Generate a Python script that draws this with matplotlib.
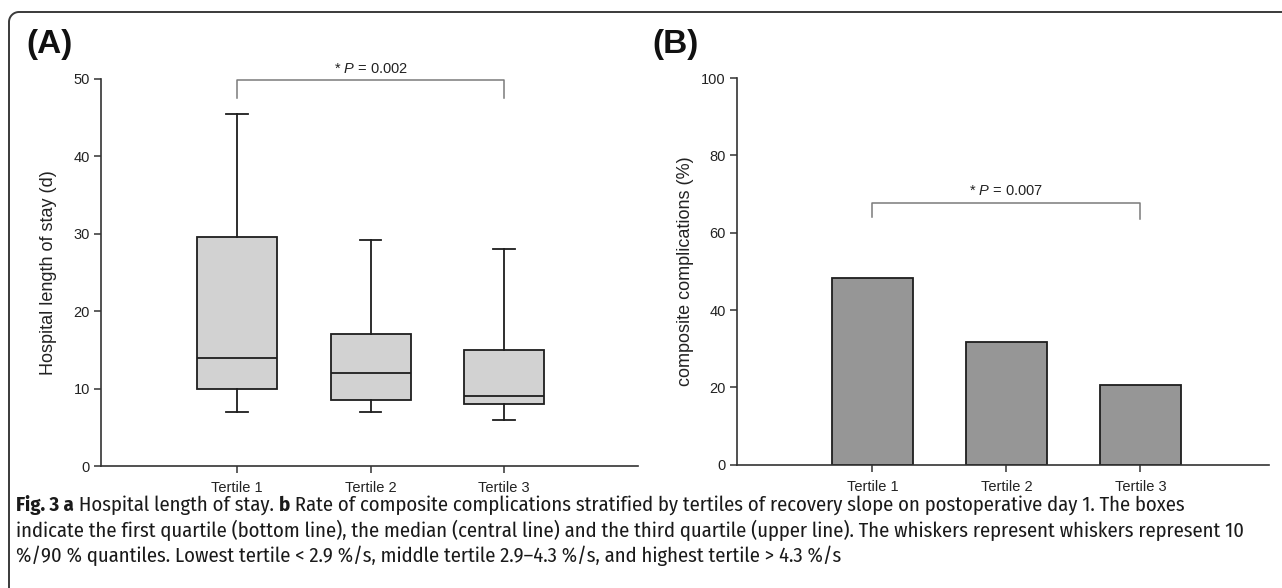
import numpy as np
import matplotlib
matplotlib.use("Agg")
import matplotlib.pyplot as plt
from matplotlib.path import Path
from matplotlib.patches import PathPatch

plt.rcParams['font.family'] = ['Liberation Sans', 'DejaVu Sans']
plt.rcParams['mathtext.fontset'] = 'custom'
plt.rcParams['mathtext.rm'] = 'Liberation Sans'
plt.rcParams['mathtext.it'] = 'Liberation Sans:italic'

# ---------------- data ----------------
categories = ["Tertile 1", "Tertile 2", "Tertile 3"]
# Panel A: hospital length of stay (days)
los_whislo = [7.0, 7.0, 6.0]
los_q1 = [10.0, 8.5, 8.0]
los_median = [14.0, 12.0, 9.0]
los_q3 = [29.6, 17.0, 15.0]
los_whishi = [45.5, 29.2, 28.0]
p_text_a = "0.002"
# Panel B: composite complications (%)
comp_rate = [48.4, 31.7, 20.7]
p_text_b = "0.007"

# caption: list of (text, bold) pieces per line
caption_lines = [
    [("Fig. 3 a", True), (" Hospital length of stay. ", False), ("b", True),
     (" Rate of composite complications stratified by tertiles of recovery slope on postoperative day 1. The boxes", False)],
    [("indicate the first quartile (bottom line), the median (central line) and the third quartile (upper line). The whiskers represent whiskers represent 10", False)],
    [("%/90 % quantiles. Lowest tertile < 2.9 %/s, middle tertile 2.9\u20134.3 %/s, and highest tertile > 4.3 %/s", False)],
]
cap_family = ["Fira Sans Condensed", "PT Sans Narrow", "Open Sans Condensed",
              "Roboto Condensed", "Archivo Narrow", "Open Sans"]

# ---------------- figure ----------------
W, H = 1282, 588
fig = plt.figure(figsize=(W / 100, H / 100), dpi=100)
txt_col = "#222222"
ax_col = "#333333"

def px_rect(left, top, right, bottom):
    return [left / W, 1 - bottom / H, (right - left) / W, (bottom - top) / H]

axA = fig.add_axes(px_rect(101, 79, 637.5, 466))
axB = fig.add_axes(px_rect(737, 78, 1269, 464.7))

pos = np.arange(1, len(categories) + 1)

# Panel A boxplot
stats = []
for i in range(len(categories)):
    stats.append(dict(med=los_median[i], q1=los_q1[i], q3=los_q3[i],
                      whislo=los_whislo[i], whishi=los_whishi[i], fliers=[]))
lw = 1.3
axA.bxp(stats, positions=pos, widths=0.6, patch_artist=True, showfliers=False,
        manage_ticks=False,
        boxprops=dict(facecolor="#d2d2d2", edgecolor="#1e1e1e", linewidth=lw),
        medianprops=dict(color="#1e1e1e", linewidth=lw),
        whiskerprops=dict(color="#1e1e1e", linewidth=lw),
        capprops=dict(color="#1e1e1e", linewidth=lw),
        capwidths=0.16)

# Panel B bars
axB.bar(pos, comp_rate, width=0.6, color="#969696", edgecolor="#1e1e1e", linewidth=1.3)

for ax in (axA, axB):
    for s in ("top", "right"):
        ax.spines[s].set_visible(False)
    for s in ("left", "bottom"):
        ax.spines[s].set_color(ax_col)
        ax.spines[s].set_linewidth(1.2)
    ax.tick_params(axis="both", direction="out", length=5, width=1.1,
                   color=ax_col, labelcolor=txt_col, labelsize=10.5)
    ax.tick_params(axis="y", pad=3)
    ax.tick_params(axis="x", pad=6)
    ax.set_xticks(pos)
    ax.set_xticklabels(categories)

axA.set_xlim(-0.02, 4.0)
axA.set_ylim(0, 50)
axA.set_yticks([0, 10, 20, 30, 40, 50])
axA.set_ylabel("Hospital length of stay (d)", fontsize=13, color=txt_col, labelpad=12)

# bracket A
br_col = "#7a7a7a"
axA.plot([pos[0], pos[0], pos[2], pos[2]], [47.6, 49.9, 49.9, 47.5],
         color=br_col, lw=1.1, clip_on=False)
axA.text((pos[0] + pos[2]) / 2, 51.3, r"* $\mathit{P}$ = " + p_text_a,
         ha="center", va="center", fontsize=10.5, color=txt_col, clip_on=False)

axB.set_xlim(-0.01, 3.96)
axB.set_ylim(0, 100)
axB.set_yticks([0, 20, 40, 60, 80, 100])
axB.set_ylabel("composite complications (%)", fontsize=13, color=txt_col, labelpad=5)
axB.plot([pos[0], pos[0], pos[2], pos[2]], [64.0, 67.6, 67.6, 63.6],
         color=br_col, lw=1.1, clip_on=False)
axB.text((pos[0] + pos[2]) / 2, 70.9, r"* $\mathit{P}$ = " + p_text_b,
         ha="center", va="center", fontsize=10.5, color=txt_col)

# panel letters
fig.text(26 / W, 1 - 45 / H, "(A)", fontsize=24, fontweight="bold", va="center", ha="left", color="#111111")
fig.text(652 / W, 1 - 45 / H, "(B)", fontsize=24, fontweight="bold", va="center", ha="left", color="#111111")

# caption
cap_base = [511, 536.5, 562]
cap_size = 14.8
for pieces, yb in zip(caption_lines, cap_base):
    prev_last = None
    for s, bold in pieces:
        kw = dict(fontsize=cap_size, family=cap_family, color="#1a1a1a",
                  fontweight="bold" if bold else "normal")
        if prev_last is None:
            t = fig.text(16 / W, 1 - yb / H, s, va="baseline", ha="left", **kw)
        else:
            t = fig.text(0, 0, s, va="baseline", ha="left", **kw)
            fig.canvas.draw()
            bb = prev_last.get_window_extent()
            t.set_position((bb.x1 / W, 1 - yb / H))
        prev_last = t

# frame with rounded top-left corner
left, top, r = 9.0, 12.0, 10.0
ang = np.linspace(np.pi, np.pi / 2, 20)
arc_x = left + r + r * np.cos(ang)
arc_y = top + r - r * np.sin(ang)
xs = np.concatenate([[left], arc_x, [W + 10]])
ys = np.concatenate([[H + 10], arc_y, [top]])
verts = np.column_stack([xs / W, 1 - ys / H])
frame = PathPatch(Path(verts), fill=False, edgecolor="#3a3a3a", linewidth=1.4,
                  transform=fig.transFigure)
fig.add_artist(frame)

fig.savefig("out.png", dpi=100)
